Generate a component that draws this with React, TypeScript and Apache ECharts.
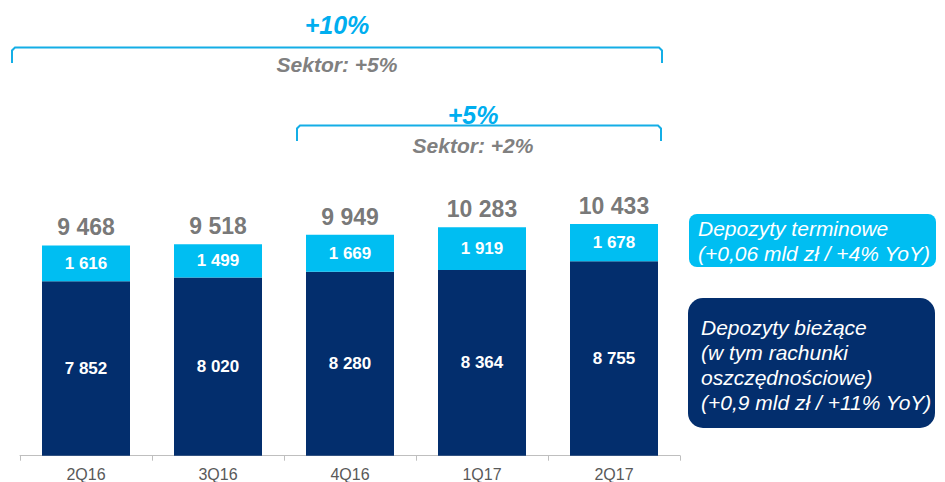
import React, { useEffect, useRef } from "react";
import * as echarts from "echarts";

const categories = ["2Q16", "3Q16", "4Q16", "1Q17", "2Q17"];
const currentDeposits = [7852, 8020, 8280, 8364, 8755];
const termDeposits = [1616, 1499, 1669, 1919, 1678];
const totals = [9468, 9518, 9949, 10283, 10433];

const bracketTop = { growth: "+10%", sector: "Sektor: +5%" };
const bracketBottom = { growth: "+5%", sector: "Sektor: +2%" };
const legendTerm = ["Depozyty terminowe", "(+0,06 mld zł / +4% YoY)"];
const legendCurrent = [
  "Depozyty bieżące",
  "(w tym rachunki",
  "oszczędnościowe)",
  "(+0,9 mld zł / +11% YoY)",
];

const DARK = "#032e6d";
const LIGHT = "#00bef2";
const BRACKET = "#14aee6";
const FONT = "'Liberation Sans', Arial, sans-serif";

const fmt = (v: number) => String(v).replace(/\B(?=(\d{3})+(?!\d))/g, " ");

export default function App() {
  const ref = useRef<HTMLDivElement>(null);
  useEffect(() => {
    document.body.style.margin = "0";
    const chart = echarts.init(ref.current!, null, { renderer: "svg" });
    const graphics: any[] = [];
    graphics.push({
      type: "polyline",
      shape: { points: [[12, 63], [12, 50.5], [15, 47.5], [659, 47.5], [662, 50.5], [662, 63]] },
      style: { stroke: BRACKET, lineWidth: 2, fill: null },
    });
    graphics.push({
      type: "text", x: 337, y: 25,
      style: { text: bracketTop.growth, fill: "#00aeef", font: `italic bold 25px ${FONT}`, textAlign: "center", textVerticalAlign: "middle" },
    });
    graphics.push({
      type: "text", x: 337, y: 64,
      style: { text: bracketTop.sector, fill: "#808080", font: `italic bold 21px ${FONT}`, textAlign: "center", textVerticalAlign: "middle" },
    });
    graphics.push({
      type: "text", x: 473, y: 115, z: 1,
      style: { text: bracketBottom.growth, fill: "#00aeef", font: `italic bold 25px ${FONT}`, textAlign: "center", textVerticalAlign: "middle" },
    });
    graphics.push({
      type: "polyline", z: 2,
      shape: { points: [[297, 141], [297, 128.5], [300, 125.5], [658, 125.5], [661, 128.5], [661, 141]] },
      style: { stroke: BRACKET, lineWidth: 2, fill: null },
    });
    graphics.push({
      type: "text", x: 473, y: 145,
      style: { text: bracketBottom.sector, fill: "#808080", font: `italic bold 21px ${FONT}`, textAlign: "center", textVerticalAlign: "middle" },
    });
    graphics.push({
      type: "rect",
      shape: { x: 689, y: 214, width: 247, height: 53, r: 8 },
      style: { fill: LIGHT },
    });
    legendTerm.forEach((t, i) => {
      graphics.push({
        type: "text", x: 698, y: 228 + i * 25,
        style: { text: t, fill: "#ffffff", font: `italic 21px ${FONT}`, textAlign: "left", textVerticalAlign: "middle" },
      });
    });
    graphics.push({
      type: "rect",
      shape: { x: 688, y: 298, width: 247, height: 130, r: 15 },
      style: { fill: DARK },
    });
    legendCurrent.forEach((t, i) => {
      graphics.push({
        type: "text", x: 701, y: 327 + i * 25,
        style: { text: t, fill: "#ffffff", font: `italic 21px ${FONT}`, textAlign: "left", textVerticalAlign: "middle" },
      });
    });
    graphics.push({
      type: "rect", z: 100,
      shape: { x: 938, y: 0, width: 7, height: 482 },
      style: { fill: "#ffffff" },
    });

    chart.setOption({
      animation: false,
      textStyle: { fontFamily: FONT },
      grid: { left: 20, right: 265, top: 11.5, bottom: 26.3, containLabel: false, outerBoundsMode: "none" },
      xAxis: {
        type: "category",
        data: categories,
        axisLine: { lineStyle: { color: "#bfbfbf", width: 1 } },
        axisTick: { show: true, length: 5, lineStyle: { color: "#bfbfbf" } },
        axisLabel: { color: "#595959", fontSize: 16, lineHeight: 14, margin: 12, fontFamily: FONT },
      },
      yAxis: { type: "value", min: 0, max: 20000, show: false, splitLine: { show: false } },
      series: [
        {
          type: "bar", stack: "d", data: currentDeposits, barWidth: 88,
          itemStyle: { color: DARK },
          label: { show: true, position: "inside", color: "#fff", fontWeight: "bold", fontSize: 17, fontFamily: FONT, formatter: (p: any) => fmt(p.value) },
        },
        {
          type: "bar", stack: "d", data: termDeposits, barWidth: 88,
          itemStyle: { color: LIGHT },
          label: { show: true, position: "inside", color: "#fff", fontWeight: "bold", fontSize: 17, fontFamily: FONT, formatter: (p: any) => fmt(p.value) },
        },
        {
          type: "scatter", data: totals, symbolSize: 1,
          itemStyle: { color: "rgba(0,0,0,0)" },
          label: { show: true, position: "top", distance: 6, color: "#545454", fontWeight: "bold", fontSize: 23, fontFamily: FONT, formatter: (p: any) => fmt(p.value) },
        },
      ],
      graphic: graphics,
    });
    return () => chart.dispose();
  }, []);
  return <div ref={ref} style={{ width: 945, height: 482 }} />;
}
